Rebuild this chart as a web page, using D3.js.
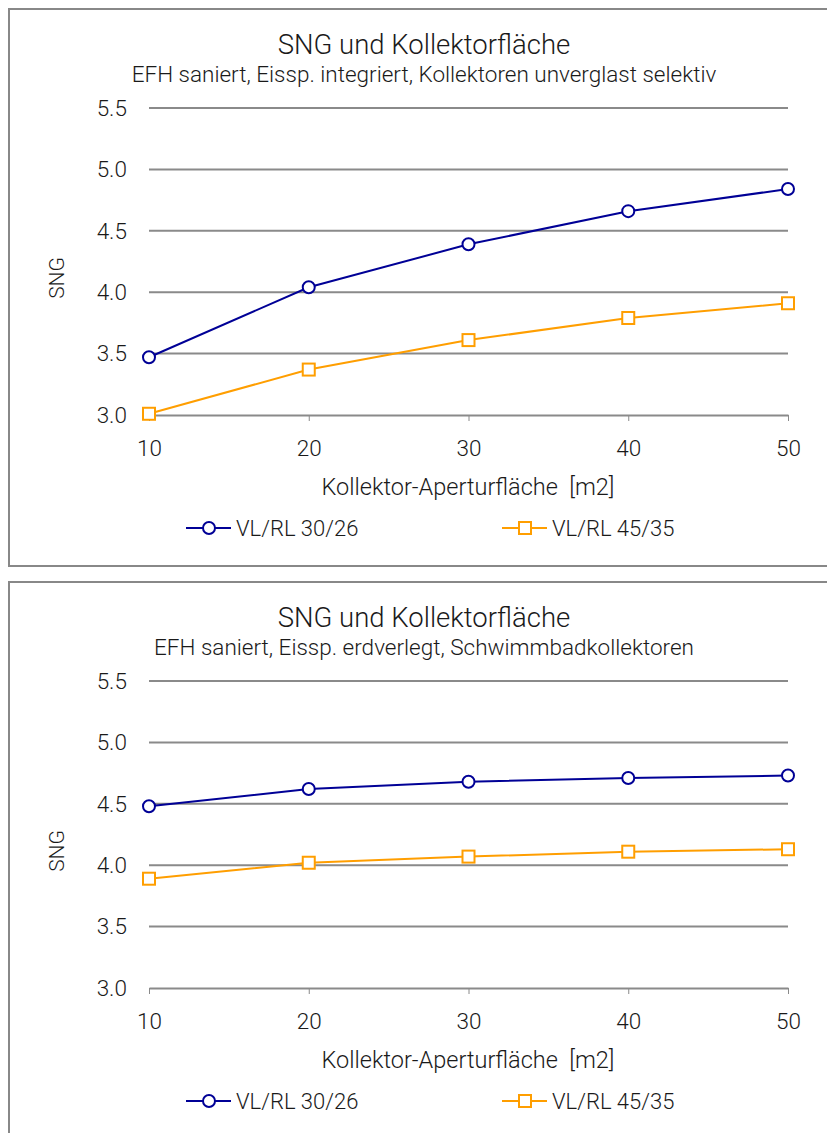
<!DOCTYPE html>
<html>
<head>
<meta charset="utf-8">
<script src="https://cdn.jsdelivr.net/npm/d3@7"></script>
<style>
  html, body { margin: 0; padding: 0; background: #fff; }
  svg { display: block; }
  text { font-family: Roboto, "Liberation Sans", sans-serif; font-weight: 300; fill: #1a1a1a; white-space: pre; }
</style>
</head>
<body>
<svg id="chart" width="827" height="1133"></svg>
<script>
// ---- data ----
const xValues = [10, 20, 30, 40, 50];
const yTicks = [3.0, 3.5, 4.0, 4.5, 5.0, 5.5];
const seriesNames = ["VL/RL 30/26", "VL/RL 45/35"];
const seriesColors = ["#000096", "#FF9E00"];
const chartTitle = "SNG und Kollektorfläche";
const subtitles = [
  "EFH saniert, Eissp. integriert, Kollektoren unverglast selektiv",
  "EFH saniert, Eissp. erdverlegt, Schwimmbadkollektoren"
];
const xAxisTitle = "Kollektor-Aperturfläche  [m2]";
const yAxisTitle = "SNG";
// chart 1
const chart1Series1 = [3.47, 4.04, 4.39, 4.66, 4.84];
const chart1Series2 = [3.01, 3.37, 3.61, 3.79, 3.91];
// chart 2
const chart2Series1 = [4.48, 4.62, 4.68, 4.71, 4.73];
const chart2Series2 = [3.89, 4.02, 4.07, 4.11, 4.13];

const charts = [
  { top: 9, height: 557, subtitle: subtitles[0], series: [chart1Series1, chart1Series2] },
  { top: 582, height: 600, subtitle: subtitles[1], series: [chart2Series1, chart2Series2] }
];

const svg = d3.select("#chart");

charts.forEach((c) => {
  const g = svg.append("g").attr("transform", `translate(0,${c.top})`);
  // frame
  g.append("rect")
    .attr("x", 9).attr("y", 0)
    .attr("width", 840).attr("height", c.height)
    .attr("fill", "#fff").attr("stroke", "#888").attr("stroke-width", 2);

  const x = d3.scaleLinear().domain([10, 50]).range([149, 788]);
  const y = d3.scaleLinear().domain([3.0, 5.5]).range([406, 99]);

  // title
  g.append("text").attr("x", 424).attr("y", 45).attr("text-anchor", "middle")
    .style("font-size", "27.5px").text(chartTitle);
  g.append("text").attr("x", 424).attr("y", 73).attr("text-anchor", "middle")
    .style("font-size", "22.5px").text(c.subtitle);

  // gridlines
  const grid = g.append("g");
  grid.selectAll("line").data(yTicks.slice(1)).join("line")
    .attr("x1", 149).attr("x2", 788)
    .attr("y1", d => y(d)).attr("y2", d => y(d))
    .attr("stroke", "#8a8a8a").attr("stroke-width", 2);

  // y axis labels
  const yAxis = d3.axisLeft(y).tickValues(yTicks).tickFormat(d3.format(".1f")).tickSize(0).tickPadding(22);
  const ya = g.append("g").attr("transform", "translate(149,0)").call(yAxis);
  ya.select(".domain").remove();
  ya.selectAll("text").style("font-size", "22.5px").attr("fill", "#1a1a1a");

  // x axis
  const xAxis = d3.axisBottom(x).tickValues(xValues).tickSize(6).tickPadding(19).tickSizeOuter(0);
  const xa = g.append("g").attr("transform", `translate(0,${y(3.0)})`).call(xAxis);
  xa.select(".domain").attr("stroke", "#8a8a8a").attr("stroke-width", 2);
  xa.selectAll(".tick line").attr("stroke", "#8a8a8a").attr("stroke-width", 1);
  xa.selectAll("text").style("font-size", "22.5px").attr("fill", "#1a1a1a");

  // axis titles
  g.append("text").attr("x", 468).attr("y", 486).attr("text-anchor", "middle")
    .style("font-size", "23.5px").text(xAxisTitle);
  g.append("text").attr("transform", "translate(64,269) rotate(-90)").attr("text-anchor", "middle")
    .style("font-size", "21px").text(yAxisTitle);

  // series
  const line = d3.line().x((d, i) => x(xValues[i])).y(d => y(d));
  c.series.forEach((vals, si) => {
    const col = seriesColors[si];
    g.append("path").datum(vals).attr("d", line)
      .attr("fill", "none").attr("stroke", col).attr("stroke-width", 2);
    if (si === 0) {
      g.selectAll(null).data(vals).join("circle")
        .attr("cx", (d, i) => x(xValues[i])).attr("cy", d => y(d)).attr("r", 6)
        .attr("fill", "#fff").attr("stroke", col).attr("stroke-width", 2);
    } else {
      g.selectAll(null).data(vals).join("rect")
        .attr("x", (d, i) => x(xValues[i]) - 6).attr("y", d => y(d) - 6)
        .attr("width", 12).attr("height", 12)
        .attr("fill", "#fff").attr("stroke", col).attr("stroke-width", 2);
    }
  });

  // legend
  const legendX = [186, 502];
  seriesNames.forEach((name, si) => {
    const col = seriesColors[si];
    const lg = g.append("g").attr("transform", `translate(${legendX[si]},519)`);
    lg.append("line").attr("x1", 0).attr("x2", 45).attr("y1", 0).attr("y2", 0)
      .attr("stroke", col).attr("stroke-width", 2);
    if (si === 0) {
      lg.append("circle").attr("cx", 23).attr("cy", 0).attr("r", 6)
        .attr("fill", "#fff").attr("stroke", col).attr("stroke-width", 2);
    } else {
      lg.append("rect").attr("x", 17).attr("y", -6).attr("width", 12).attr("height", 12)
        .attr("fill", "#fff").attr("stroke", col).attr("stroke-width", 2);
    }
    lg.append("text").attr("x", 50).attr("y", 8).style("font-size", "22px").text(name);
  });
});
</script>
</body>
</html>
